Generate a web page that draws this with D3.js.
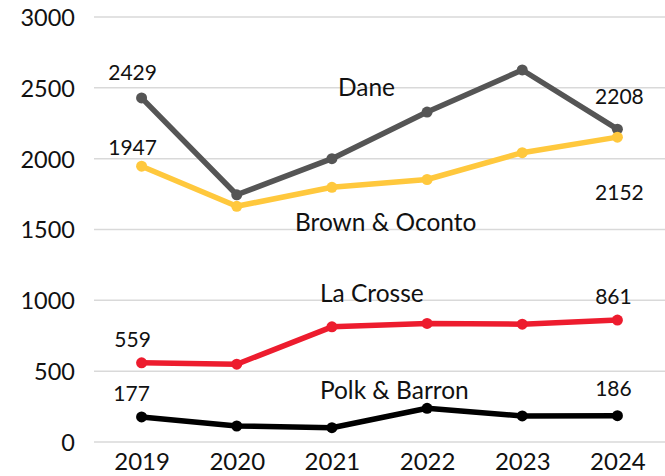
<!DOCTYPE html>
<html>
<head>
<meta charset="utf-8">
<script src="https://cdn.jsdelivr.net/npm/d3@7"></script>
<style>
  body { margin: 0; background: #fff; }
  svg text { font-family: Lato, "Open Sans", sans-serif; fill: #111; }
  .grid line { stroke: #d9d9d9; stroke-width: 1.5; }
</style>
</head>
<body>
<svg width="665" height="476"></svg>
<script>
// data
const years = ["2019", "2020", "2021", "2022", "2023", "2024"];
const yTicks = [0, 500, 1000, 1500, 2000, 2500, 3000];

const dane = [2429, 1745, 2000, 2329, 2626, 2208];
const brownOconto = [1947, 1664, 1798, 1853, 2042, 2152];
const laCrosse = [559, 549, 813, 837, 832, 861];
const polkBarron = [177, 113, 101, 238, 184, 186];

const seriesNames = ["Dane", "Brown & Oconto", "La Crosse", "Polk & Barron"];
const colors = ["#555555", "#ffc83d", "#ed1c2e", "#000000"];

let svg = d3.select("svg"),
  margin = { top: 17, right: 0, bottom: 34, left: 94 },
  width = +svg.attr("width") - margin.left - margin.right,
  height = +svg.attr("height") - margin.top - margin.bottom;

let g = svg.append("g")
  .attr("transform", "translate(" + margin.left + "," + margin.top + ")");

let x = d3.scalePoint().domain(years).range([0, width]).padding(0.5),
  y = d3.scaleLinear().domain([0, 3000]).range([height, 0]);

let series = [dane, brownOconto, laCrosse, polkBarron].map((vals, i) => ({
  name: seriesNames[i],
  color: colors[i],
  values: vals.map((v, j) => ({ year: years[j], value: v }))
}));

// gridlines
g.append("g")
  .attr("class", "grid")
  .selectAll("line")
  .data(yTicks)
  .enter()
  .append("line")
  .attr("x1", 0)
  .attr("x2", width)
  .attr("y1", d => y(d))
  .attr("y2", d => y(d));

// y axis labels
let yAxis = g.append("g")
  .call(d3.axisLeft(y).tickValues(yTicks).tickFormat(d3.format("d")).tickSize(0).tickPadding(19));
yAxis.select(".domain").remove();
yAxis.selectAll("text").style("font-size", "23.5px").attr("dy", "0.36em");

// x axis labels
let xAxis = g.append("g")
  .attr("transform", "translate(0," + height + ")")
  .call(d3.axisBottom(x).tickSize(0).tickPadding(11));
xAxis.select(".domain").remove();
xAxis.selectAll("text").style("font-size", "24px");

let line = d3.line()
  .x(d => x(d.year))
  .y(d => y(d.value));

let trend = g.selectAll(".trend")
  .data(series)
  .enter()
  .append("g")
  .attr("class", "trend");

trend.append("path")
  .attr("d", d => line(d.values))
  .style("fill", "none")
  .style("stroke", d => d.color)
  .style("stroke-width", 5.5)
  .style("stroke-linejoin", "round");

trend.selectAll("circle")
  .data(d => d.values.map(v => Object.assign({ color: d.color }, v)))
  .enter()
  .append("circle")
  .attr("r", 5.5)
  .attr("cx", d => x(d.year))
  .attr("cy", d => y(d.value))
  .style("fill", d => d.color);

// value labels at first and last points: [series, index, dx, dy]
const valueLabels = [
  [0, 0, -9, -18], [0, 5, 2, -25],
  [1, 0, -9, -11], [1, 5, 2, 63],
  [2, 0, -9, -16], [2, 5, -4, -16],
  [3, 0, -10, -16], [3, 5, -4, -20]
];

g.selectAll(".value-label")
  .data(valueLabels)
  .enter()
  .append("text")
  .attr("class", "value-label")
  .attr("x", d => x(years[d[1]]) + d[2])
  .attr("y", d => y(series[d[0]].values[d[1]].value) + d[3])
  .attr("text-anchor", "middle")
  .style("font-size", "21px")
  .text(d => series[d[0]].values[d[1]].value);

// series names
const nameAt = [
  { x: "2021", dx: 6, v: 2500, dy: 8 },
  { x: "2021", dx: -37, v: 1500, dy: 1 },
  { x: "2021", dx: -12, v: 1000, dy: 2 },
  { x: "2021", dx: -12, v: 300, dy: -1 }
];

g.selectAll(".series-name")
  .data(series)
  .enter()
  .append("text")
  .attr("class", "series-name")
  .attr("x", (d, i) => x(nameAt[i].x) + nameAt[i].dx)
  .attr("y", (d, i) => y(nameAt[i].v) + nameAt[i].dy)
  .style("font-size", "24.5px")
  .text(d => d.name);
</script>
</body>
</html>
